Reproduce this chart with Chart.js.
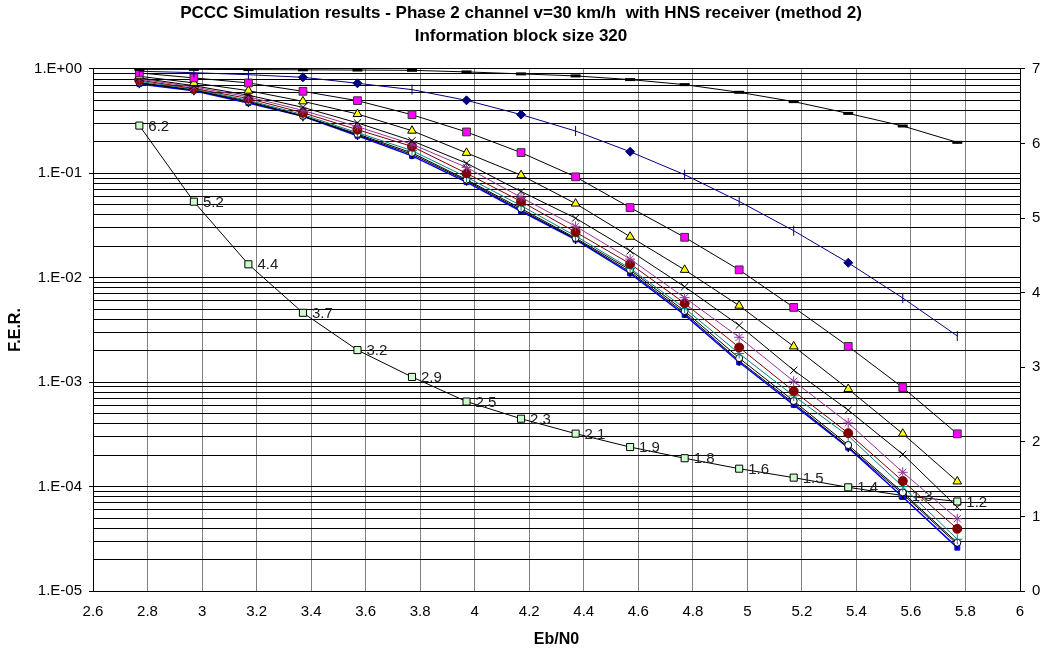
<!DOCTYPE html>
<html>
<head>
<meta charset="utf-8">
<script src="https://cdn.jsdelivr.net/npm/chart.js@4.4.0/dist/chart.umd.min.js"></script>
<style>
  html, body { margin: 0; padding: 0; background: #fff; }
  #wrap { width: 1042px; height: 651px; }
</style>
</head>
<body>
<div id="wrap"><canvas id="chart" width="1042" height="651"></canvas></div>
<script>
// Eb/N0 of every simulated point
const ebn0 = [2.77, 2.97, 3.17, 3.37, 3.57, 3.77, 3.97, 4.17, 4.37, 4.57, 4.77, 4.97, 5.17, 5.37, 5.57, 5.77];

// F.E.R. curves (left log axis)
const ferBlackDash = [0.99, 0.99, 0.985, 0.98, 0.975, 0.969, 0.936, 0.896, 0.857, 0.79, 0.707, 0.597, 0.486, 0.375, 0.284, 0.198];
const ferNavy = [0.95, 0.92, 0.88, 0.831, 0.728, 0.633, 0.50, 0.365, 0.254, 0.161, 0.097, 0.0538, 0.0282, 0.0139, 0.0064, 0.00277];
const ferMagenta = [0.915, 0.82, 0.734, 0.61, 0.496, 0.364, 0.249, 0.158, 0.0925, 0.047, 0.0244, 0.0119, 0.0052, 0.0022, 0.000888, 0.00032];
const ferYellow = [0.85, 0.734, 0.619, 0.489, 0.37, 0.256, 0.157, 0.096, 0.0513, 0.0247, 0.0119, 0.0054, 0.0022, 0.00086, 0.000321, 0.000112];
const ferCross = [0.82, 0.69, 0.56, 0.428, 0.304, 0.205, 0.125, 0.067, 0.0372, 0.0181, 0.0082, 0.0035, 0.0013, 0.00054, 0.000204, 0.0000635];
const ferPurple = [0.80, 0.67, 0.54, 0.40, 0.28, 0.19, 0.114, 0.0588, 0.0311, 0.0151, 0.00645, 0.00269, 0.00102, 0.000407, 0.000137, 0.0000492];
const ferMaroon = [0.78, 0.65, 0.52, 0.38, 0.262, 0.181, 0.10, 0.0538, 0.0274, 0.0136, 0.0057, 0.00215, 0.00082, 0.000325, 0.000113, 0.0000394];
const ferTeal = [0.76, 0.64, 0.50, 0.365, 0.245, 0.165, 0.092, 0.049, 0.0251, 0.0123, 0.0051, 0.00188, 0.00074, 0.000306, 0.0001, 0.0000313];
const ferOpen = [0.74, 0.63, 0.49, 0.355, 0.238, 0.157, 0.087, 0.046, 0.024, 0.0119, 0.0048, 0.0017, 0.00066, 0.00025, 0.000088, 0.000029];
const ferTick = [0.73, 0.625, 0.48, 0.352, 0.233, 0.152, 0.085, 0.0445, 0.0235, 0.0114, 0.0046, 0.0016, 0.00063, 0.00024, 0.000085, 0.000028];
const ferBlue = [0.718, 0.619, 0.472, 0.351, 0.229, 0.147, 0.0825, 0.0433, 0.0232, 0.011, 0.00441, 0.00155, 0.000606, 0.000236, 0.0000794, 0.000026];

// labelled green curve (right linear axis)
const gainValues = [6.24, 5.22, 4.38, 3.73, 3.23, 2.87, 2.54, 2.31, 2.11, 1.93, 1.78, 1.64, 1.52, 1.39, 1.28, 1.2];

// navy curve mixes two marker kinds
const navyMarkers = ["bar", "bar", "bar", "dia", "dia", "bar", "dia", "dia", "bar", "dia", "bar", "bar", "bar", "dia", "bar", "bar"];

// axis ticks
const xTicks = [2.6, 2.8, 3, 3.2, 3.4, 3.6, 3.8, 4, 4.2, 4.4, 4.6, 4.8, 5, 5.2, 5.4, 5.6, 5.8, 6];
const yDecadeLabels = ["1.E-05", "1.E-04", "1.E-03", "1.E-02", "1.E-01", "1.E+00"];
const y2Ticks = [0, 1, 2, 3, 4, 5, 6, 7];

const FONT = "Arial, 'Liberation Sans', sans-serif";

function pts(vals) {
  return vals.map((v, i) => ({ x: ebn0[i], y: v }));
}

function isDecade(v) {
  const e = Math.log10(v);
  return Math.abs(e - Math.round(e)) < 1e-6;
}

// log grid lines at 1..9 of every decade
const yGrid = [];
for (let e = -5; e < 0; e++) {
  for (let m = 1; m <= 9; m++) yGrid.push(m * Math.pow(10, e));
}
yGrid.push(1);

function line(vals, color, extra) {
  return Object.assign({
    data: pts(vals),
    showLine: true,
    borderColor: color,
    borderWidth: 1,
    pointBorderWidth: 1,
    tension: 0,
    yAxisID: "y",
  }, extra);
}

const datasets = [
  line(ferBlackDash, "#000", { pointStyle: "line", pointRadius: 5, pointBorderColor: "#000", pointBorderWidth: 3 }),
  line(ferNavy, "#000080", {
    pointStyle: navyMarkers.map((m) => (m === "dia" ? "rectRot" : "line")),
    pointRotation: navyMarkers.map((m) => (m === "dia" ? 0 : 90)),
    pointRadius: navyMarkers.map((m) => (m === "dia" ? 4.5 : 5)),
    pointBackgroundColor: "#000080",
    pointBorderColor: "#000080",
  }),
  line(ferMagenta, "#000", { pointStyle: "rect", pointRadius: 5.5, pointBackgroundColor: "#ff00ff", pointBorderColor: "#333" }),
  line(ferYellow, "#000", { pointStyle: "triangle", pointRadius: 5, pointBackgroundColor: "#ffff00", pointBorderColor: "#000" }),
  line(ferCross, "#000", { pointStyle: "crossRot", pointRadius: 5, pointBorderColor: "#000" }),
  line(ferPurple, "#993399", { pointStyle: "star", pointRadius: 5, pointBorderColor: "#993399" }),
  line(ferMaroon, "#800000", { pointStyle: "circle", pointRadius: 4.5, pointBackgroundColor: "#800000", pointBorderColor: "#800000" }),
  line(ferTeal, "#008080", { pointStyle: "cross", pointRadius: 5, pointBorderColor: "#008080" }),
  line(ferOpen, "#000", { pointStyle: "circle", pointRadius: 3.5, pointBackgroundColor: "#fff", pointBorderColor: "#000" }),
  line(ferTick, "#000", { pointStyle: "line", pointRotation: 90, pointRadius: 5, pointBorderColor: "#000", pointBorderWidth: 1.5 }),
  line(ferBlue, "#0000ff", { pointStyle: "rect", pointRadius: 3.5, pointBackgroundColor: "#0000ff", pointBorderColor: "#0000ff", borderWidth: 1.5 }),
  line(gainValues, "#000", { yAxisID: "y2", pointStyle: "rect", pointRadius: 5, pointBackgroundColor: "#ccffcc", pointBorderColor: "#000" }),
];
const GAIN_INDEX = datasets.length - 1;

// value labels next to the green squares
const gainLabels = {
  id: "gainLabels",
  afterDatasetsDraw(chart) {
    const ctx = chart.ctx;
    const meta = chart.getDatasetMeta(GAIN_INDEX);
    ctx.save();
    ctx.font = "15px " + FONT;
    ctx.fillStyle = "#222";
    ctx.textAlign = "left";
    ctx.textBaseline = "middle";
    meta.data.forEach((pt, i) => {
      ctx.fillText(gainValues[i].toFixed(1), pt.x + 9, pt.y + 1);
    });
    ctx.restore();
  },
};

const chart = new Chart(document.getElementById("chart"), {
  type: "scatter",
  data: { datasets },
  plugins: [gainLabels],
  options: {
    responsive: false,
    animation: false,
    layout: { padding: 0 },
    plugins: {
      legend: { display: false },
      tooltip: { enabled: false },
      title: {
        display: true,
        text: [
          "PCCC Simulation results - Phase 2 channel v=30 km/h  with HNS receiver (method 2)",
          "Information block size 320",
        ],
        color: "#000",
        font: { family: FONT, size: 17, weight: "bold", lineHeight: 1.35 },
        padding: { top: 2, bottom: 21 },
      },
    },
    scales: {
      x: {
        type: "linear",
        min: 2.6,
        max: 6,
        afterBuildTicks: (scale) => {
          scale.ticks = xTicks.map((v) => ({ value: v }));
        },
        afterFit: (scale) => {
          scale.height = 60;
        },
        ticks: {
          autoSkip: false,
          maxRotation: 0,
          color: "#000",
          font: { family: FONT, size: 15 },
          padding: 12,
          callback: (v, i) => String(xTicks[i]),
        },
        grid: { color: "#808080", drawTicks: false },
        border: { color: "#000" },
        title: {
          display: true,
          text: "Eb/N0",
          color: "#000",
          font: { family: FONT, size: 16, weight: "bold" },
          padding: { top: 4, bottom: 2 },
        },
      },
      y: {
        type: "logarithmic",
        position: "left",
        min: 1e-5,
        max: 1,
        afterBuildTicks: (scale) => {
          scale.ticks = yGrid.map((v) => ({ value: v }));
        },
        afterFit: (scale) => {
          scale.width = 93;
        },
        ticks: {
          autoSkip: false,
          color: "#000",
          font: { family: FONT, size: 15 },
          padding: 7,
          callback: (v) => (isDecade(v) ? yDecadeLabels[Math.round(Math.log10(v)) + 5] : ""),
        },
        grid: {
          color: "#000",
          tickLength: 4,
          tickColor: (ctx) => (ctx.tick && isDecade(ctx.tick.value) ? "#000" : "rgba(0,0,0,0)"),
        },
        border: { color: "#000" },
        title: {
          display: true,
          text: "F.E.R.",
          color: "#000",
          font: { family: FONT, size: 16, weight: "bold" },
          padding: { top: 6, bottom: 4 },
        },
      },
      y2: {
        type: "linear",
        position: "right",
        min: 0,
        max: 7,
        afterBuildTicks: (scale) => {
          scale.ticks = y2Ticks.map((v) => ({ value: v }));
        },
        afterFit: (scale) => {
          scale.width = 22;
        },
        ticks: {
          color: "#000",
          font: { family: FONT, size: 15 },
          padding: 7,
        },
        grid: { drawOnChartArea: false, tickLength: 5, tickColor: "#000" },
        border: { color: "#000" },
      },
    },
  },
});
</script>
</body>
</html>
